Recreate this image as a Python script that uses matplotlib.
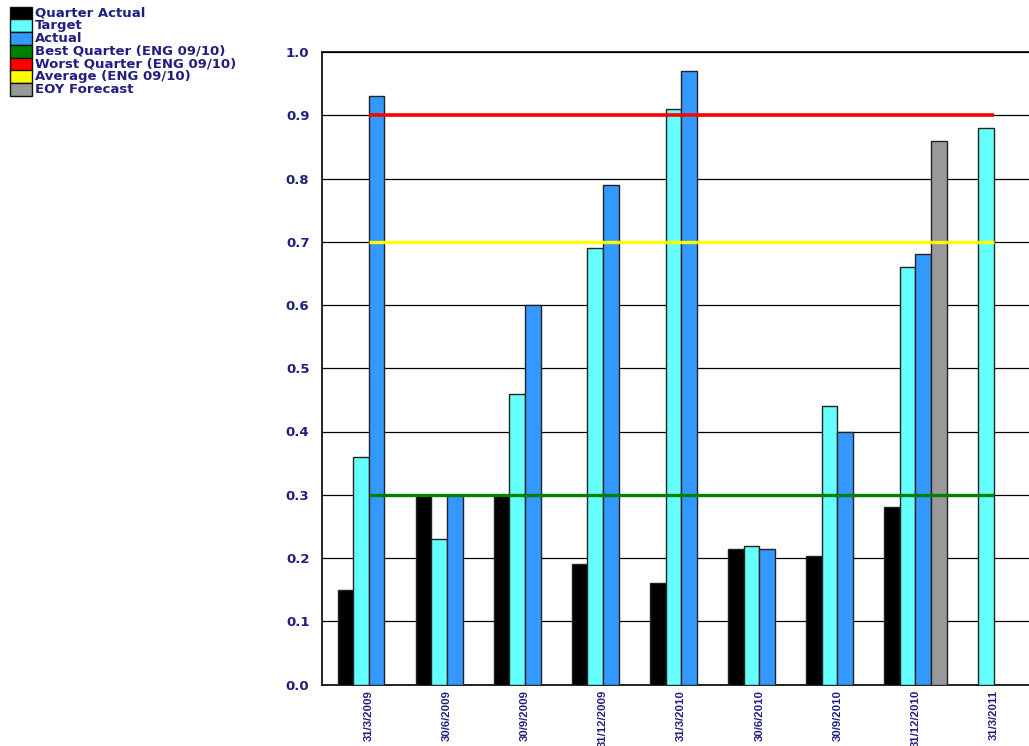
import numpy as np
import matplotlib
matplotlib.use("Agg")
import matplotlib.pyplot as plt
from matplotlib.patches import Rectangle

categories = ["31/3/2009", "30/6/2009", "30/9/2009", "31/12/2009", "31/3/2010",
              "30/6/2010", "30/9/2010", "31/12/2010", "31/3/2011"]
quarter_actual = [0.15, 0.30, 0.30, 0.19, 0.16, 0.215, 0.203, 0.28, np.nan]
target = [0.36, 0.23, 0.46, 0.69, 0.91, 0.219, 0.44, 0.66, 0.88]
actual = [0.93, 0.30, 0.60, 0.79, 0.97, 0.215, 0.40, 0.68, np.nan]
eoy_forecast = [np.nan, np.nan, np.nan, np.nan, np.nan, np.nan, np.nan, 0.86, np.nan]
best_quarter = 0.30
worst_quarter = 0.90
average = 0.70
yticks = [0.0, 0.1, 0.2, 0.3, 0.4, 0.5, 0.6, 0.7, 0.8, 0.9, 1.0]

legend_labels = ["Quarter Actual", "Target", "Actual", "Best Quarter (ENG 09/10)",
                 "Worst Quarter (ENG 09/10)", "Average (ENG 09/10)", "EOY Forecast"]
c_qa, c_tg, c_ac = "#000000", "#66ffff", "#3399ff"
c_best, c_worst, c_avg, c_eoy = "#008000", "#ff0000", "#ffff00", "#999999"
legend_colors = [c_qa, c_tg, c_ac, c_best, c_worst, c_avg, c_eoy]
text_color = "#202080"
font = "DejaVu Sans"

W, H = 1029, 746
fig = plt.figure(figsize=(W / 100, H / 100), dpi=100)
ax = fig.add_axes([322 / W, 1 - 684.5 / H, (1040.4 - 322) / W, (684.5 - 52) / H])

x = np.arange(len(categories))
bw = 0.2
series = [quarter_actual, target, actual, eoy_forecast]
cols = [c_qa, c_tg, c_ac, c_eoy]
for k, (vals, col) in enumerate(zip(series, cols)):
    ax.bar(x + (k - 1.5) * bw, vals, width=bw, color=col, edgecolor="#222222",
           linewidth=1.0, zorder=3)

for val, col, lw in [(best_quarter, c_best, 2.4), (worst_quarter, c_worst, 2.6),
                     (average, c_avg, 2.4)]:
    ax.plot([x[0], x[-1]], [val, val], color=col, linewidth=lw, zorder=4,
            solid_capstyle="butt")

ax.set_xlim(-0.6, 8.6)
ax.set_ylim(0, 1.0)
ax.set_yticks(yticks)
ax.set_yticklabels([f"{v:.1f}" for v in yticks], fontsize=9.5, fontweight="bold",
                   color=text_color, family=font)
ax.set_xticks(x)
ax.set_xticklabels(categories, rotation=90, fontsize=8.2, fontweight="bold",
                   color=text_color, family="Liberation Sans", va="top", ha="center")
ax.tick_params(axis="both", length=0)
ax.tick_params(axis="y", pad=9)
ax.tick_params(axis="x", pad=4)
ax.yaxis.grid(True, color="black", linewidth=0.9, zorder=0)
ax.set_axisbelow(True)
for s in ["left", "top", "bottom"]:
    ax.spines[s].set_color("black")
    ax.spines[s].set_linewidth(1.2)
ax.spines["right"].set_visible(False)

# Legend, drawn in figure pixels at top-left
row_h = 12.8
for i, (lab, col) in enumerate(zip(legend_labels, legend_colors)):
    y_top = 6.5 + i * row_h
    fig.patches.append(Rectangle((10 / W, 1 - (y_top + row_h) / H), 22 / W, row_h / H,
                                 transform=fig.transFigure, facecolor=col,
                                 edgecolor="#111111", linewidth=1.0))
    fig.text(35 / W, 1 - (y_top + row_h / 2) / H, lab, fontsize=9.5,
             fontweight="bold", color=text_color, family=font, va="center", ha="left")

fig.savefig("out.png", dpi=100)
